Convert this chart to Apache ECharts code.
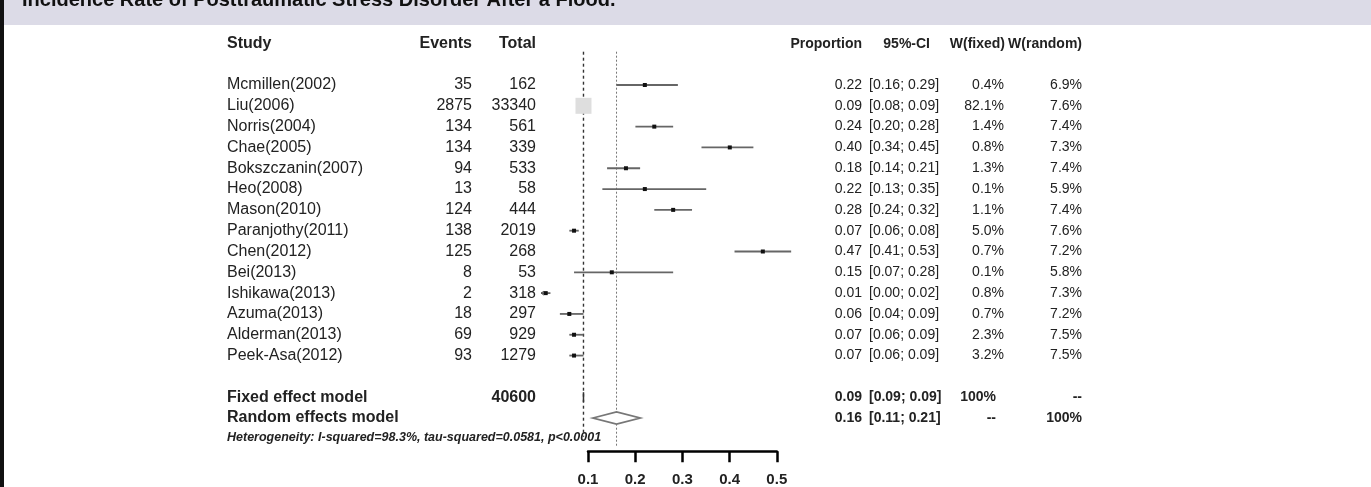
<!DOCTYPE html>
<html><head><meta charset="utf-8">
<script src="https://cdn.jsdelivr.net/npm/echarts@6/dist/echarts.min.js"></script>
<style>html,body{margin:0;padding:0;background:#fff}#c{width:1371px;height:487px}</style>
</head><body><div id="c"></div>
<script>
const studies=["Mcmillen(2002)","Liu(2006)","Norris(2004)","Chae(2005)","Bokszczanin(2007)","Heo(2008)","Mason(2010)","Paranjothy(2011)","Chen(2012)","Bei(2013)","Ishikawa(2013)","Azuma(2013)","Alderman(2013)","Peek-Asa(2012)"];
const events=[35,2875,134,134,94,13,124,138,125,8,2,18,69,93];
const totals=[162,33340,561,339,533,58,444,2019,268,53,318,297,929,1279];
const props=[0.22,0.09,0.24,0.40,0.18,0.22,0.28,0.07,0.47,0.15,0.01,0.06,0.07,0.07];
const lower=[0.16,0.08,0.20,0.34,0.14,0.13,0.24,0.06,0.41,0.07,0.00,0.04,0.06,0.06];
const upper=[0.29,0.09,0.28,0.45,0.21,0.35,0.32,0.08,0.53,0.28,0.02,0.09,0.09,0.09];
const wFixed=["0.4%","82.1%","1.4%","0.8%","1.3%","0.1%","1.1%","5.0%","0.7%","0.1%","0.8%","0.7%","2.3%","3.2%"];
const wRandom=["6.9%","7.6%","7.4%","7.3%","7.4%","5.9%","7.4%","7.6%","7.2%","5.8%","7.3%","7.2%","7.5%","7.5%"];
const fixedModel={est:0.09,lo:0.09,hi:0.09,total:40600,wf:"100%",wr:"--"};
const randomModel={est:0.16,lo:0.11,hi:0.21,wf:"--",wr:"100%"};
const axisTicks=[0.1,0.2,0.3,0.4,0.5];
const FONT='"Liberation Sans", Arial, sans-serif';
const COL={study:227,events:472,total:536,prop:862,ciL:869,wf:1004,wr:1082};
const f2=v=>v.toFixed(2);
function txt(x,y,t,align,bold,size){return {type:'text',x:x,y:y,style:{text:t,font:(bold?'bold ':'')+(size||15)+'px '+FONT,fill:'#222',textAlign:align,textVerticalAlign:'middle'}};}
const L=16,R=14;
const chart=echarts.init(document.getElementById('c'));
const rows=studies.map((s,i)=>[props[i],i,lower[i],upper[i]]);
chart.setOption({
  animation:false,
  grid:[{left:541,top:85,width:259.6,height:333},{left:588,top:451,width:188.8,height:1}],
  xAxis:[{gridIndex:0,type:'value',min:0,max:0.55,show:false},
    {gridIndex:1,type:'value',min:0.1,max:0.5,interval:0.1,position:'bottom',
     axisLine:{lineStyle:{color:'#000',width:2.5}},axisTick:{length:11,lineStyle:{color:'#000',width:2.5}},
     splitLine:{show:false},axisLabel:{margin:21,color:'#222',fontSize:15,fontWeight:'bold',fontFamily:FONT,formatter:v=>axisTicks.includes(+v.toFixed(1))?v.toFixed(1):''}}],
  yAxis:[{gridIndex:0,type:'value',min:0,max:16,inverse:true,show:false},{gridIndex:1,type:'value',show:false}],
  graphic:[
    {type:'rect',shape:{x:0,y:0,width:1371,height:25},style:{fill:'#dcdbe7'}},
    {type:'text',x:22,y:-10,style:{text:'Incidence Rate of Posttraumatic Stress Disorder After a Flood.',font:'bold 20px '+FONT,fill:'#111'}},
    {type:'rect',shape:{x:0,y:0,width:4,height:487},style:{fill:'#111'}},
    txt(COL.study,44,'Study','left',true,L),txt(COL.events,44,'Events','right',true,L),txt(COL.total,44,'Total','right',true,L),
    txt(COL.prop,44,'Proportion','right',true,R),txt(930,44,'95%-CI','right',true,R),txt(1005,44,'W(fixed)','right',true,R),txt(1082,44,'W(random)','right',true,R)
  ],
  series:[
    {type:'custom',coordinateSystem:'cartesian2d',xAxisIndex:0,yAxisIndex:0,data:[[0]],silent:true,z:1,
     renderItem:(p,api)=>{
       const a=api.coord([fixedModel.est,-1.6]),b=api.coord([fixedModel.est,16.9]);
       const c=api.coord([randomModel.est,-1.6]),d=api.coord([randomModel.est,17.4]);
       return {type:'group',children:[
         {type:'line',shape:{x1:a[0],y1:a[1],x2:b[0],y2:b[1]},style:{stroke:'#333',lineWidth:1.4,lineDash:[3,3]}},
         {type:'line',shape:{x1:c[0],y1:c[1],x2:d[0],y2:d[1]},style:{stroke:'#777',lineWidth:1,lineDash:[2,2]}}]};
     }},
    {type:'custom',coordinateSystem:'cartesian2d',xAxisIndex:0,yAxisIndex:0,data:rows,silent:true,z:3,
     encode:{x:0,y:1},
     renderItem:(p,api)=>{
       const i=api.value(1);const c=api.coord([api.value(0),i]);
       const l=api.coord([api.value(2),i]),u=api.coord([api.value(3),i]);
       const ch=[{type:'line',shape:{x1:l[0],y1:c[1],x2:u[0],y2:c[1]},style:{stroke:'#666',lineWidth:1.8}}];
       if(i===1) ch.push({type:'rect',shape:{x:c[0]-8,y:c[1]-8,width:16,height:16},style:{fill:'#dedede'}});
       else ch.push({type:'rect',shape:{x:c[0]-2,y:c[1]-2,width:4,height:4},style:{fill:'#111'}});
       if(i===10) ch.push({type:'polyline',shape:{points:[[l[0]+3,c[1]-2],[l[0],c[1]],[l[0]+3,c[1]+2]]},style:{stroke:'#555',fill:null}});
       const y=c[1];
       ch.push(txt(COL.study,y,studies[i],'left',false,L),txt(COL.events,y,String(events[i]),'right',false,L),txt(COL.total,y,String(totals[i]),'right',false,L),
         txt(COL.prop,y,f2(props[i]),'right',false,R),txt(COL.ciL,y,'['+f2(lower[i])+'; '+f2(upper[i])+']','left',false,R),
         txt(COL.wf,y,wFixed[i],'right',false,R),txt(COL.wr,y,wRandom[i],'right',false,R));
       return {type:'group',children:ch};
     }},
    {type:'custom',coordinateSystem:'cartesian2d',xAxisIndex:0,yAxisIndex:0,data:[[0]],silent:true,z:4,
     renderItem:(p,api)=>{
       const fy=api.coord([0,15])[1], ry=api.coord([0,16])[1], hy=api.coord([0,16.92])[1];
       const fx=api.coord([fixedModel.est,15])[0];
       const rl=api.coord([randomModel.lo,16])[0],rc=api.coord([randomModel.est,16])[0],rh=api.coord([randomModel.hi,16])[0];
       return {type:'group',children:[
         {type:'line',shape:{x1:fx,y1:fy-5,x2:fx,y2:fy+5},style:{stroke:'#333',lineWidth:1.5}},
         {type:'polygon',shape:{points:[[rl,ry],[rc,ry-6],[rh,ry],[rc,ry+6]]},style:{fill:'#fff',stroke:'#777',lineWidth:1.8}},
         txt(COL.study,fy,'Fixed effect model','left',true,L),txt(COL.total,fy,String(fixedModel.total),'right',true,L),
         txt(COL.prop,fy,f2(fixedModel.est),'right',true,R),txt(COL.ciL,fy,'['+f2(fixedModel.lo)+'; '+f2(fixedModel.hi)+']','left',true,R),
         txt(996,fy,fixedModel.wf,'right',true,R),txt(1082,fy,fixedModel.wr,'right',true,R),
         txt(COL.study,ry,'Random effects model','left',true,L),
         txt(COL.prop,ry,f2(randomModel.est),'right',true,R),txt(COL.ciL,ry,'['+f2(randomModel.lo)+'; '+f2(randomModel.hi)+']','left',true,R),
         txt(996,ry,randomModel.wf,'right',true,R),txt(1082,ry,randomModel.wr,'right',true,R),
         {type:'text',x:COL.study,y:hy,style:{text:'Heterogeneity: I-squared=98.3%, tau-squared=0.0581, p<0.0001',font:'italic bold 12.5px '+FONT,fill:'#222',textVerticalAlign:'middle'}}
       ]};
     }},
    {type:'scatter',xAxisIndex:1,yAxisIndex:1,data:[],silent:true}
  ]
});
</script></body></html>
